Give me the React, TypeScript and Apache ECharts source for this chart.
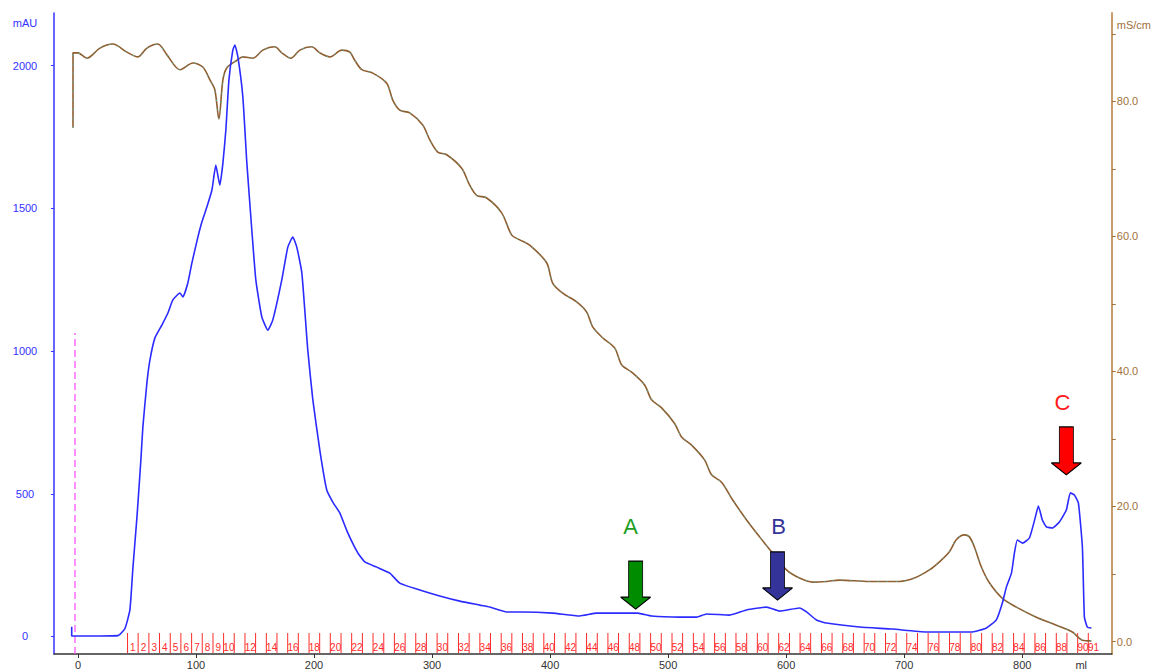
import React, { useEffect, useRef } from "react";
import * as echarts from "echarts";

// ---- Axis ranges (ml, mAU, mS/cm) ----
const X_MIN = -20.3;
const X_MAX = 875.9;
const UV_MIN = -61.3;
const UV_MAX = 2183.9;
const COND_MIN = -1.85;
const COND_MAX = 93.1;

const xTicks = [0, 100, 200, 300, 400, 500, 600, 700, 800];
const xUnitPos = 850; // where "ml" is written
const uvTicks = [0, 500, 1000, 1500, 2000];
const condLabels = [0, 20, 40, 60, 80];
const condTicks = [0, 10, 20, 30, 40, 50, 60, 70, 80, 90];

// ---- UV 280 nm trace (ml, mAU) ----
const uvData: [number, number][] = [
  [-5.3, 34], [-5.3, 2], [18.6, 2], [33.9, 3], [39.8, 28], [44.0, 93], [46.6, 243],
  [50.0, 419], [53.3, 618], [55.0, 734], [58.4, 888], [61.0, 969], [65.2, 1046],
  [71.1, 1091], [76.2, 1133], [80.4, 1179], [86.4, 1203], [88.9, 1189], [93.1, 1238],
  [96.5, 1308], [101.6, 1399], [105.0, 1452], [109.2, 1504], [113.5, 1564],
  [116.8, 1651], [120.2, 1581], [122.8, 1658], [125.3, 1774], [127.9, 1949],
  [131.2, 2054], [132.9, 2072], [135.5, 2030], [139.7, 1890], [143.1, 1658],
  [147.3, 1424], [150.7, 1249], [155.8, 1119], [160.9, 1073], [165.1, 1109],
  [172.7, 1249], [177.8, 1364], [182.0, 1399], [185.4, 1364], [189.7, 1273],
  [194.7, 1004], [199.0, 829], [204.9, 653], [210.8, 513], [215.9, 471],
  [221.8, 433], [228.6, 363], [237.1, 293], [243.0, 261], [253.2, 243],
  [264.2, 222], [272.6, 187], [289.6, 163], [306.5, 142], [323.5, 124],
  [340.4, 110], [348.9, 103], [363.3, 86], [376.8, 86], [402.2, 82], [425.1, 72],
  [439.5, 82], [474.2, 82], [486.0, 72], [509.7, 68], [524.1, 68], [532.6, 79],
  [552.1, 75], [566.5, 93], [583.4, 103], [594.4, 89], [611.3, 100], [617.3, 86],
  [625.7, 58], [634.2, 47], [662.2, 33], [690.1, 26], [718.9, 16], [757.8, 16],
  [769.7, 30], [778.1, 58], [783.2, 117], [786.6, 173], [790.9, 222], [793.4, 292],
  [795.9, 338], [800.2, 327], [806.1, 345], [811.2, 419], [813.7, 457], [817.1, 408],
  [820.5, 384], [825.6, 380], [831.5, 401], [837.4, 443], [840.8, 503], [844.2, 496],
  [847.6, 468], [851.0, 313], [852.7, 68], [855.2, 33], [858.6, 30],
];

// ---- Conductivity trace (ml, mS/cm) ----
const condData: [number, number][] = [
  [-4.2, 76.1], [-4.2, 87.2], [0, 87.2], [7.6, 86.4], [18.6, 87.9], [29.6, 88.5],
  [41.5, 87.3], [50.8, 86.6], [58.4, 87.9], [67.7, 88.5], [75.4, 86.9], [86.4, 84.7],
  [97.4, 85.7], [105.8, 85.1], [111.8, 83.2], [116.0, 81.7], [119.4, 77.4],
  [122.8, 83.2], [126.2, 85.0], [134.6, 86.1], [139.7, 86.6], [148.2, 86.4],
  [156.6, 87.6], [166.8, 88.1], [172.7, 87.2], [180.4, 86.4], [188.0, 87.6],
  [198.1, 88.1], [204.9, 87.2], [213.4, 86.6], [223.5, 87.6], [230.3, 87.3],
  [234.5, 86.1], [240.5, 84.7], [249.8, 84.2], [261.6, 82.7], [266.7, 80.2],
  [272.7, 78.7], [281.1, 78.3], [292.1, 76.5], [298.1, 74.3], [304.8, 72.5],
  [312.4, 72.1], [325.1, 70.1], [331.9, 67.6], [337.8, 66.1], [346.3, 65.7],
  [359.0, 63.5], [367.5, 60.2], [374.3, 59.5], [382.7, 58.7], [397.1, 56.1],
  [402.2, 53.1], [410.7, 51.6], [422.5, 50.3], [431.0, 48.8], [436.1, 46.6],
  [444.5, 45.0], [454.7, 43.5], [460.6, 41.0], [469.1, 39.9], [480.1, 38.0],
  [486.0, 35.8], [494.5, 34.6], [505.5, 32.3], [511.4, 30.3], [519.9, 29.1],
  [530.9, 26.9], [536.8, 24.7], [545.3, 23.6], [554.6, 21.0], [566.5, 18.0],
  [577.5, 15.5], [587.6, 13.3], [600.3, 10.6], [611.3, 9.4], [622.4, 8.8],
  [634.2, 8.9], [645.2, 9.1], [670.6, 8.9], [696.0, 8.9], [708.7, 9.4],
  [721.4, 10.6], [729.9, 11.8], [738.3, 13.3], [744.3, 15.1], [751.1, 15.8],
  [755.3, 15.5], [759.5, 14.0], [765.5, 11.0], [772.2, 8.7], [783.2, 6.4],
  [795.1, 5.1], [812.0, 3.6], [829.0, 2.4], [842.5, 1.4], [851.0, 0.2], [858.6, 0.1],
];

// ---- Fraction boundaries (ml), fractions 1..91 ----
const fractionStarts = [
  42.0, 51.0, 60.1, 69.1, 78.2, 87.2, 96.3, 105.3, 114.4, 123.4,
  132.4, 141.5, 150.5, 159.6, 168.6, 177.7, 186.7, 195.8, 204.8, 213.8,
  222.9, 231.9, 241.0, 250.0, 259.1, 268.1, 277.2, 286.2, 295.2, 304.3,
  313.3, 322.4, 331.4, 340.5, 349.5, 358.6, 367.6, 376.6, 385.7, 394.7,
  403.8, 412.8, 421.9, 430.9, 440.0, 449.0, 458.0, 467.1, 476.1, 485.2,
  494.2, 503.3, 512.3, 521.4, 530.4, 539.4, 548.5, 557.5, 566.6, 575.6,
  584.7, 593.7, 602.8, 611.8, 620.8, 629.9, 638.9, 648.0, 657.0, 666.1,
  675.1, 684.2, 693.2, 702.2, 711.3, 720.3, 729.4, 738.4, 747.5, 756.5,
  765.6, 774.6, 783.6, 792.7, 801.7, 810.8, 819.8, 828.9, 837.9, 847.0,
  856.0,
];
const lastFractionEnd = 865.0;

// ---- Injection mark ----
const injectionMl = -2.5;
const injectionTop = 1063;

// ---- Annotations (arrow tip and letter position, data coords) ----
const annotations = [
  { label: "A", tip: [472.5, 96], text: [468.2, 387], fill: "#008c00", textColor: "#1e9e1e" },
  { label: "B", tip: [592.7, 128], text: [593.6, 387], fill: "#333399", textColor: "#333399" },
  { label: "C", tip: [837.4, 566], text: [834.0, 821], fill: "#ff0000", textColor: "#ff1a1a" },
];

const ARROW_PATH = "path://M8,0H22V36H30L15,48L0,36H8Z";
const FONT = "'Liberation Sans', Arial, sans-serif";

export default function App() {
  const ref = useRef<HTMLDivElement>(null);

  useEffect(() => {
    if (!ref.current) return;
    const chart = echarts.init(ref.current, null, { renderer: "svg" });

    const fractionData = fractionStarts.map((s, i) => [
      s,
      i < fractionStarts.length - 1 ? fractionStarts[i + 1] : lastFractionEnd,
      i + 1,
    ]);

    const markData: any[] = [];
    annotations.forEach((a) => {
      markData.push({
        coord: a.tip,
        symbol: ARROW_PATH,
        symbolSize: [30, 48],
        symbolOffset: [0, "-50%"],
        itemStyle: { color: a.fill, borderColor: "#000", borderWidth: 1 },
        label: { show: false },
      });
      markData.push({
        coord: a.text,
        symbol: "rect",
        symbolSize: 1,
        itemStyle: { color: "rgba(0,0,0,0)" },
        label: {
          show: true,
          position: "inside",
          formatter: a.label,
          color: a.textColor,
          fontSize: 22,
          fontFamily: FONT,
        },
      });
    });

    chart.setOption({
      animation: false,
      textStyle: { fontFamily: FONT },
      grid: { left: 54, right: 41.5, top: 13, bottom: 18, containLabel: false },
      xAxis: {
        type: "value",
        min: X_MIN,
        max: X_MAX,
        axisLine: { show: true, onZero: false, lineStyle: { color: "#333", width: 1.5 } },
        axisTick: { show: true, customValues: xTicks, length: 4, lineStyle: { color: "#333" } },
        axisLabel: {
          customValues: [...xTicks, xUnitPos],
          formatter: (v: number) => (v === xUnitPos ? "ml" : String(v)),
          color: "#333",
          fontSize: 11,
          margin: 5,
        },
        splitLine: { show: false },
      },
      yAxis: [
        {
          type: "value",
          min: UV_MIN,
          max: UV_MAX,
          position: "left",
          name: "mAU",
          nameLocation: "end",
          nameGap: -15,
          nameTextStyle: { color: "#3333ff", fontSize: 11, align: "center", padding: [0, 58, 0, 0] },
          axisLine: { show: true, onZero: false, lineStyle: { color: "#3333ff", width: 1.5 } },
          axisTick: { show: true, customValues: uvTicks, length: 3, lineStyle: { color: "#3333ff" } },
          axisLabel: {
            customValues: uvTicks,
            formatter: (v: number) => String(v),
            color: "#3333ff",
            fontSize: 11,
            margin: 29,
            align: "center",
          },
          splitLine: { show: false },
        },
        {
          type: "value",
          min: COND_MIN,
          max: COND_MAX,
          position: "right",
          name: "mS/cm",
          nameLocation: "end",
          nameGap: -17,
          nameTextStyle: { color: "#a0703c", fontSize: 11, align: "left", padding: [0, 0, 0, 5] },
          axisLine: { show: true, onZero: false, lineStyle: { color: "#c69c6d", width: 2 } },
          axisTick: { show: true, customValues: condTicks, length: 4, lineStyle: { color: "#a0703c" } },
          axisLabel: {
            customValues: condLabels,
            formatter: (v: number) => v.toFixed(1),
            color: "#a0703c",
            fontSize: 11,
            margin: 5,
          },
          splitLine: { show: false },
        },
      ],
      series: [
        {
          name: "fractions",
          type: "custom",
          xAxisIndex: 0,
          yAxisIndex: 0,
          silent: true,
          encode: { x: 0 },
          data: fractionData,
          renderItem: (params: any, api: any) => {
            const s = api.value(0);
            const e = api.value(1);
            const n = api.value(2);
            const p0 = api.coord([s, UV_MIN]);
            const p1 = api.coord([e, UV_MIN]);
            const children: any[] = [
              {
                type: "line",
                shape: { x1: p0[0], y1: p0[1] - 1, x2: p0[0], y2: p0[1] - 21 },
                style: { stroke: "#ff2a2a", lineWidth: 1 },
              },
            ];
            const show = n <= 10 || n % 2 === 0 || n === 91;
            if (show) {
              children.push({
                type: "text",
                style: {
                  text: String(n),
                  x: (p0[0] + p1[0]) / 2,
                  y: p0[1] - 7,
                  fill: "#ff2a2a",
                  fontSize: 10,
                  fontFamily: FONT,
                  align: "center",
                  verticalAlign: "middle",
                },
              });
            }
            return { type: "group", children };
          },
        },
        {
          name: "injection",
          type: "line",
          xAxisIndex: 0,
          yAxisIndex: 0,
          symbol: "none",
          silent: true,
          data: [
            [injectionMl, UV_MIN],
            [injectionMl, injectionTop],
          ],
          lineStyle: { color: "#ff44ff", width: 1.2, type: [7, 4] },
        },
        {
          name: "Cond",
          type: "line",
          yAxisIndex: 1,
          symbol: "none",
          silent: true,
          smooth: 0.3,
          data: condData,
          lineStyle: { color: "#8f5f30", width: 1.6 },
        },
        {
          name: "cond-specks",
          type: "line",
          yAxisIndex: 1,
          symbol: "none",
          silent: true,
          smooth: 0.3,
          data: condData,
          lineStyle: { color: "#40c4cc", width: 1, type: [1, 8] },
        },
        {
          name: "UV",
          type: "line",
          yAxisIndex: 0,
          symbol: "none",
          silent: true,
          smooth: 0.15,
          data: uvData,
          lineStyle: { color: "#2b2bff", width: 1.6 },
          markPoint: { silent: true, data: markData },
        },
      ],
    });

    return () => chart.dispose();
  }, []);

  return (
    <div
      ref={ref}
      style={{ position: "absolute", left: 0, top: 0, width: 1154, height: 672, background: "#fff" }}
    />
  );
}
